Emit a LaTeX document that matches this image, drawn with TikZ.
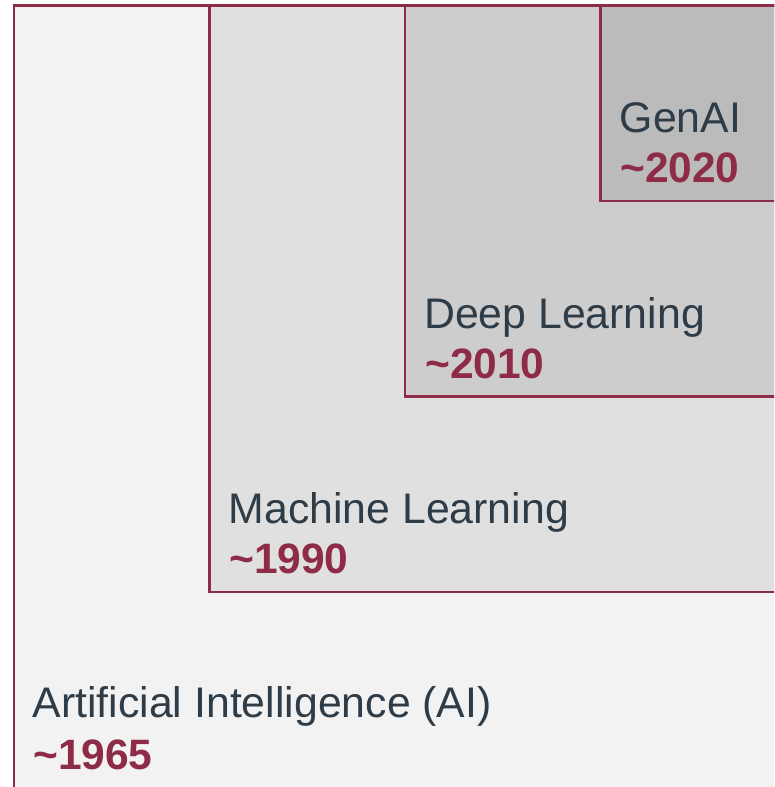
\documentclass[tikz,border=0pt]{standalone}
\usepackage{fontspec}
\setmainfont{Liberation Sans}
\definecolor{bord}{HTML}{8E2B47}
\definecolor{ttxt}{HTML}{2E3C48}
\definecolor{fAI}{HTML}{F2F2F2}
\definecolor{fML}{HTML}{E0E0E0}
\definecolor{fDL}{HTML}{CDCDCD}
\definecolor{fGA}{HTML}{BBBBBB}
\begin{document}
\begin{tikzpicture}[x=1pt,y=-1pt,
  box/.style={draw=bord, line width=2.8pt},
  ttl/.style={anchor=base west, inner sep=0pt, text=ttxt, font=\fontsize{42.8}{50}\selectfont},
  yr/.style={anchor=base west, inner sep=0pt, text=bord, font=\fontsize{42.5}{50}\selectfont\bfseries}]
\useasboundingbox (0,0) rectangle (774,787);
\fill[white] (0,0) rectangle (774,787);
\begin{scope}
\clip (0,0) rectangle (774,787);
\path[box, fill=fAI] (14,5.5) rectangle (820,790);
\path[box, fill=fML] (209.5,5.5) rectangle (820,592);
\path[box, fill=fDL] (405,5.5) rectangle (820,396.5);
\path[box, fill=fGA] (600.5,5.5) rectangle (820,201);
\end{scope}
\node[ttl] (ai) at (32.5,717) {Artificial Intelligence (AI)};
\node[yr] (aiy) at (33,769) {\textasciitilde1965};
\node[ttl] (ml) at (228.5,523) {Machine Learning};
\node[yr] (mly) at (229,573) {\textasciitilde1990};
\node[ttl] (dl) at (424,328) {Deep Learning};
\node[yr] (dly) at (425,378) {\textasciitilde2010};
\node[ttl] (ga) at (619.5,132) {GenAI};
\node[yr] (gay) at (620,182) {\textasciitilde2020};
\end{tikzpicture}
\end{document}
